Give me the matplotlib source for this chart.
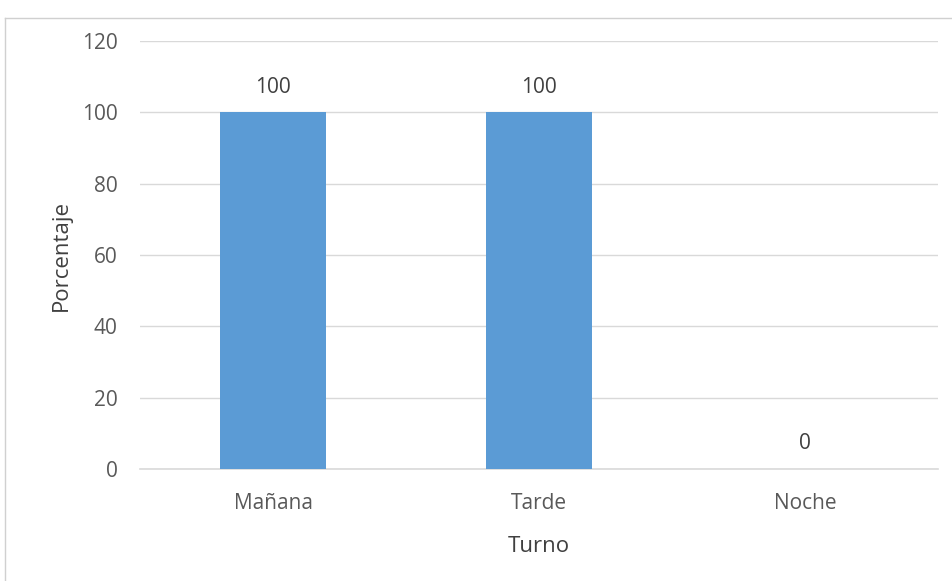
import matplotlib.pyplot as plt
from matplotlib.lines import Line2D

turnos = ['Mañana', 'Tarde', 'Noche']
porcentaje = [100, 100, 0]
y_ticks = [0, 20, 40, 60, 80, 100, 120]

plt.rcParams['font.family'] = ['Open Sans', 'DejaVu Sans']

fig = plt.figure(figsize=(9.53, 5.81), dpi=100)
ax = fig.add_axes([0.1469, 0.1928, 0.8374, 0.7366])

x = range(len(turnos))
bars = ax.bar(x, porcentaje, width=0.4, color='#5b9bd5', zorder=3)
for i, v in enumerate(porcentaje):
    ax.annotate(str(v), (i, v), xytext=(0, 18), textcoords='offset points',
                ha='center', va='center', fontsize=15, color='#404040')

ax.set_xlim(-0.5, len(turnos) - 0.5)
ax.set_ylim(0, 120)
ax.set_yticks(y_ticks)
ax.set_xticks(list(x))
ax.set_xticklabels(turnos)
ax.grid(axis='y', color='#d9d9d9', linewidth=1, zorder=0)
ax.axhline(0, color='#d9d9d9', linewidth=1.2, clip_on=False, zorder=2)
for s in ax.spines.values():
    s.set_visible(False)
ax.tick_params(length=0, labelsize=15, colors='#595959')
ax.tick_params(axis='x', pad=17)
ax.tick_params(axis='y', pad=16)
ax.set_xlabel('Turno', fontsize=16, color='#404040', labelpad=16)
ax.set_ylabel('Porcentaje', fontsize=16, color='#404040', labelpad=7)

# chart frame
fig.add_artist(Line2D([5/953, 5/953], [0, 1 - 18/581], transform=fig.transFigure, color='#d0d0d0', lw=1))
fig.add_artist(Line2D([5/953, 1], [1 - 18/581, 1 - 18/581], transform=fig.transFigure, color='#d0d0d0', lw=1))

fig.savefig('out.png', dpi=100)
